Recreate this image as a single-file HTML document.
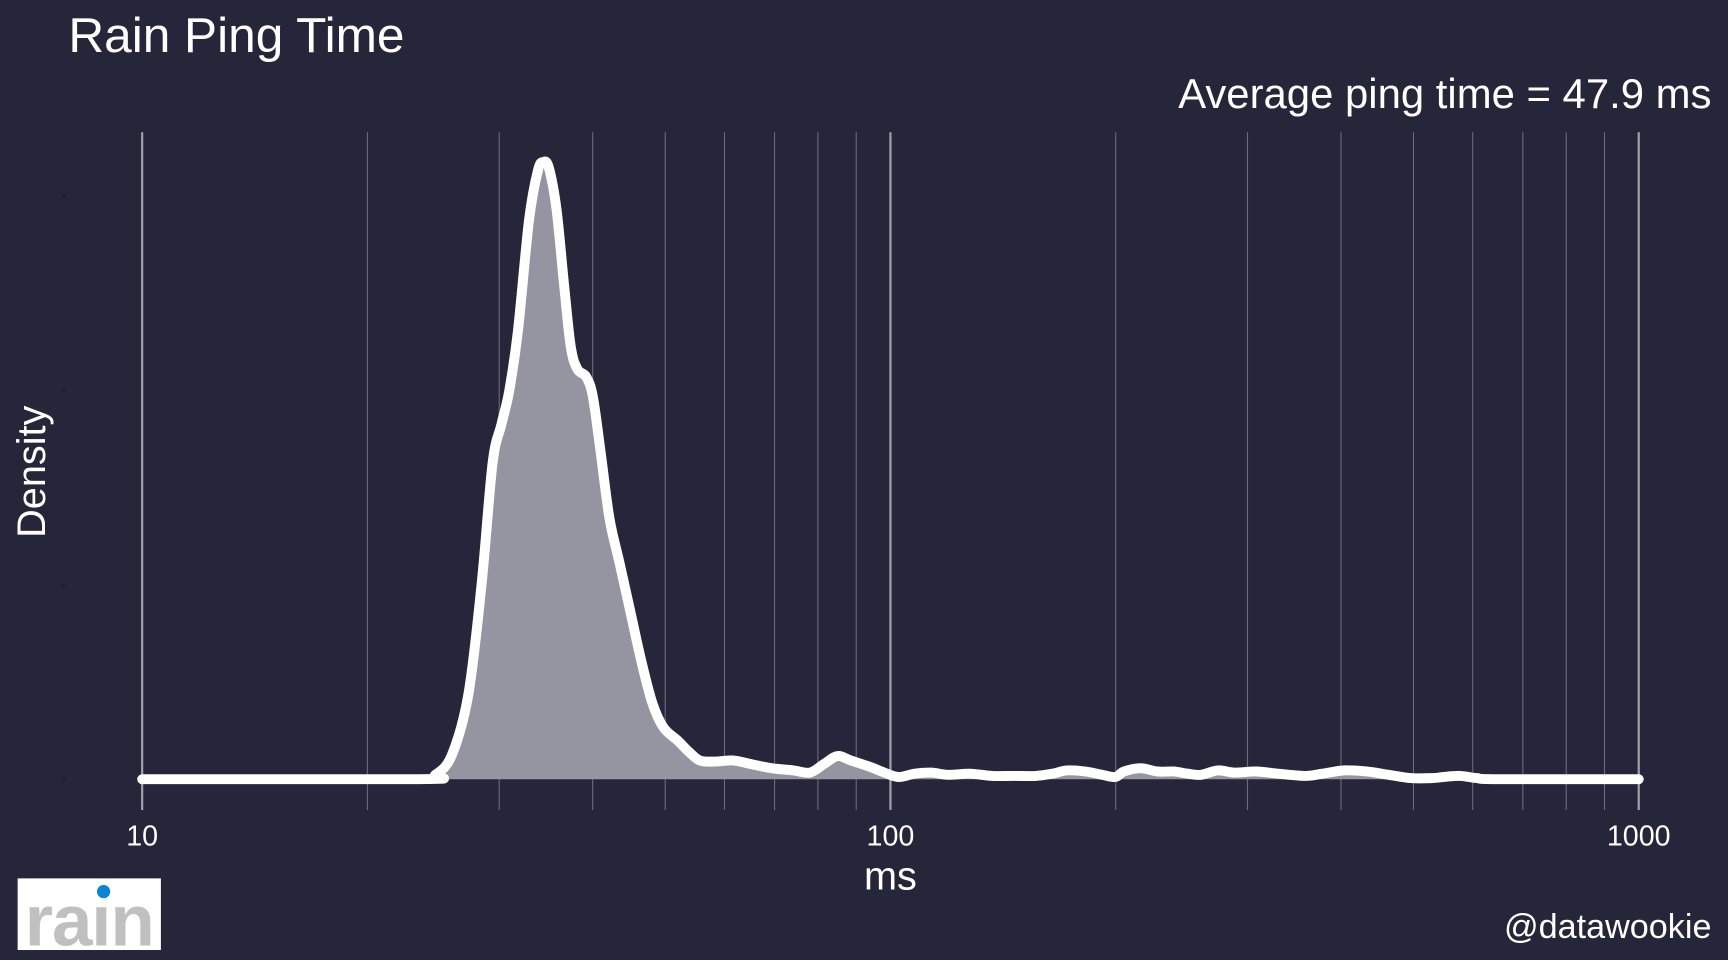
<!DOCTYPE html>
<html><head><meta charset="utf-8"><style>
html,body{margin:0;padding:0;background:#25263a;}
svg{display:block}
text{font-family:"Liberation Sans",sans-serif;fill:#fff}
</style></head><body>
<svg width="1728" height="960" viewBox="0 0 1568 871" xmlns="http://www.w3.org/2000/svg">
<rect width="1568" height="871" fill="#25263a"/>
<g id="grid"></g>
<g fill="#1e1f2e"><circle cx="58" cy="178" r="1.5"/><circle cx="58" cy="354" r="1.5"/><circle cx="58" cy="531" r="1.5"/><circle cx="58" cy="707" r="1.5"/></g>
<path id="area" fill="#9495a0" stroke="none"/>
<path id="line" fill="none" stroke="#fff" stroke-width="9" stroke-linecap="round" stroke-linejoin="round"/>
<text x="62" y="47" font-size="45">Rain Ping Time</text>
<text x="1553" y="98" font-size="38" text-anchor="end">Average ping time = 47.9 ms</text>
<text x="129" y="767" font-size="26" text-anchor="middle">10</text>
<text x="808" y="767" font-size="26" text-anchor="middle">100</text>
<text x="1487" y="767" font-size="26" text-anchor="middle">1000</text>
<text x="808" y="807" font-size="36" text-anchor="middle">ms</text>
<text x="0" y="0" font-size="36" text-anchor="middle" transform="translate(41,428) rotate(-90)">Density</text>
<text x="1553" y="851" font-size="31" text-anchor="end">@datawookie</text>
<rect x="16" y="797" width="130" height="65" fill="#fff"/>
<text x="81" y="858" font-size="66" font-weight="bold" text-anchor="middle" style="fill:#c0c0c0" letter-spacing="-1">rain</text>
<rect x="84" y="808" width="12" height="12" fill="#fff"/>
<circle cx="94" cy="809" r="6" fill="#0a84d6"/>
</svg>
<script>
var g=document.getElementById('grid'),s='';
function X(v){return 129+Math.log10(v/10)*679;}
for(var d=10;d<=100;d*=10)for(var k=2;k<=9;k++){var x=X(k*d);s+='<line x1="'+x+'" x2="'+x+'" y1="120" y2="735" stroke="#6a6b7c" stroke-width="1"/>';}
[10,100,1000].forEach(function(v){var x=X(v);s+='<line x1="'+x+'" x2="'+x+'" y1="120" y2="735" stroke="#a0a1ad" stroke-width="2"/>';});
g.innerHTML=s;
var p=[[129,707],[380,707],[395,703],[410,685],[425,630],[437,530],[447,420],[455,385],[462,355],[470,300],[480,200],[488,155],[493,147],[498,152],[505,190],[512,260],[518,315],[524,335],[532,342],[538,360],[545,410],[553,470],[562,510],[572,555],[582,600],[592,638],[602,660],[615,672],[625,682],[635,690],[648,691],[665,690],[680,693],[700,697],[720,699],[735,701],[748,693],[760,686],[772,690],[790,696],[800,700],[815,705],[830,702],[845,701],[860,703],[880,702],[900,704],[920,704],[940,704],[955,702],[968,699],[985,700],[1000,703],[1012,705],[1020,700],[1035,697],[1050,700],[1065,700],[1078,702],[1090,703],[1105,699],[1120,701],[1140,700],[1160,702],[1185,704],[1200,702],[1220,699],[1240,700],[1260,703],[1280,706],[1300,706],[1310,705],[1325,704],[1340,706],[1360,707],[1487,707]];
var d='M'+p[0][0]+' '+p[0][1];
for(var i=0;i<p.length-1;i++){
 var p0=p[Math.max(0,i-1)],p1=p[i],p2=p[i+1],p3=p[Math.min(p.length-1,i+2)];
 var c1x=p1[0]+(p2[0]-p0[0])/6,c1y=p1[1]+(p2[1]-p0[1])/6;
 var c2x=p2[0]-(p3[0]-p1[0])/6,c2y=p2[1]-(p3[1]-p1[1])/6;
 c1y=Math.min(c1y,707);c2y=Math.min(c2y,707);
 d+=' C'+c1x+' '+c1y+' '+c2x+' '+c2y+' '+p2[0]+' '+p2[1];
}
document.getElementById('line').setAttribute('d',d);
document.getElementById('area').setAttribute('d',d+' Z');
</script>
</body></html>
